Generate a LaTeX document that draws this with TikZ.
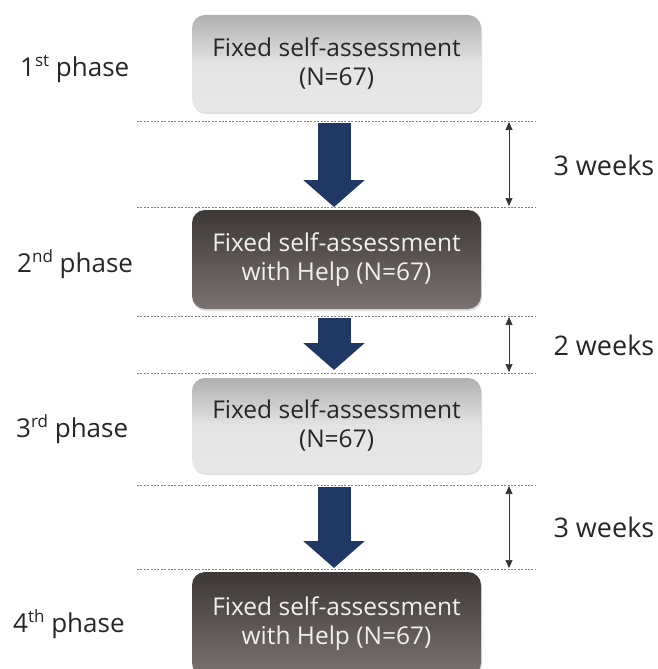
\documentclass[tikz,border=0pt]{standalone}
\usepackage{fontspec}
\setmainfont{Open Sans}
\usetikzlibrary{arrows.meta,shadows}
\definecolor{arrowblue}{HTML}{1F3864}
\definecolor{darktop}{HTML}{3D3735}
\definecolor{darkbot}{HTML}{7A7371}
\definecolor{lighttop}{HTML}{B0B0B0}
\definecolor{lightbot}{HTML}{E8E8E8}
\definecolor{txt}{HTML}{262626}
\newcommand{\ordsup}[1]{\raisebox{0.36em}{\fontsize{17}{17}\selectfont #1}}
\tikzset{
  box/.style={rounded corners=13pt, minimum width=289pt, align=center,
    font=\fontsize{24.5}{29}\selectfont, inner sep=0pt,
    drop shadow={opacity=0.25, shadow xshift=1pt, shadow yshift=-2pt}},
  lightbox/.style={box, top color=lighttop, bottom color=lightbot, middle color=lightbot!92!lighttop, text=txt},
  darkbox/.style={box, top color=darktop, bottom color=darkbot, text=white!94!black},
  sepline/.style={gray, line width=0.9pt, dash pattern=on 2pt off 1.4pt},
  blockarrow/.style={arrowblue, line width=33pt, -{Triangle[width=60pt,length=27pt]}},
  span/.style={black!80, line width=0.7pt, {Triangle[width=7pt,length=8pt]}-{Triangle[width=7pt,length=8pt]}},
  phase/.style={font=\fontsize{26}{30}\selectfont, text=txt, anchor=base west, inner sep=0pt},
  weeks/.style={font=\fontsize{27}{30}\selectfont, text=txt, anchor=west}
}
\begin{document}
\begin{tikzpicture}[x=1pt,y=-1pt]
\clip (0,0) rectangle (657,669);
\fill[white] (0,0) rectangle (657,669);
% boxes
\node[lightbox, minimum height=97pt] (b1) at (336.5,63.5) {Fixed self-assessment\\(N=67)};
\node[darkbox, minimum height=99pt] (b2) at (336.5,259.5) {Fixed self-assessment\\with Help (N=67)};
\node[lightbox, minimum height=95pt] (b3) at (336.5,425.5) {Fixed self-assessment\\(N=67)};
\node[darkbox, minimum height=104pt] (b4) at (336.5,624) {Fixed self-assessment\\with Help (N=67)};
% separator lines
\foreach \n/\y in {l1/121, l2/207, l3/316, l4/373, l5/485, l6/569}{
  \coordinate (\n a) at (137,\y);
  \coordinate (\n b) at (535,\y);
  \draw[sepline] (\n a) -- (\n b);
}
% block arrows
\coordinate (a1s) at (334,123); \coordinate (a1e) at (334,207);
\coordinate (a2s) at (334,318); \coordinate (a2e) at (334,370);
\coordinate (a3s) at (334,487); \coordinate (a3e) at (334,568);
\draw[blockarrow] (a1s) -- (a1e);
\draw[blockarrow] (a2s) -- (a2e);
\draw[blockarrow] (a3s) -- (a3e);
% span arrows
\coordinate (s1s) at (509,122); \coordinate (s1e) at (509,206);
\coordinate (s2s) at (509,317); \coordinate (s2e) at (509,372);
\coordinate (s3s) at (509,486); \coordinate (s3e) at (509,568);
\draw[span] (s1s) -- (s1e);
\draw[span] (s2s) -- (s2e);
\draw[span] (s3s) -- (s3e);
% labels
\node[weeks] (w1) at (550,165) {3 weeks};
\node[weeks] (w2) at (550,345) {2 weeks};
\node[weeks] (w3) at (550,527) {3 weeks};
\node[phase] (p1) at (20,76) {1\ordsup{st} phase};
\node[phase] (p2) at (17,272) {2\ordsup{nd} phase};
\node[phase] (p3) at (16,437) {3\ordsup{rd} phase};
\node[phase] (p4) at (13,632) {4\ordsup{th} phase};
\end{tikzpicture}
\end{document}
